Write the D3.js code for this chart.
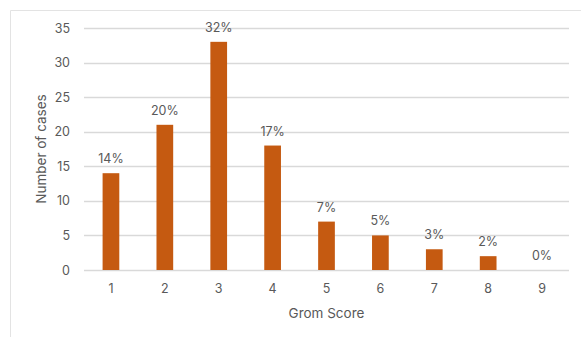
<!DOCTYPE html>
<html>
<head>
<meta charset="utf-8">
<script src="https://cdn.jsdelivr.net/npm/d3@7"></script>
<style>
  html, body { margin: 0; padding: 0; background: #fff; }
  svg { display: block; }
  text { font-family: Inter, "Liberation Sans", sans-serif; fill: #595959; }
</style>
</head>
<body>
<svg id="chart" width="581" height="337"></svg>
<script>
// Grom score distribution
const scores = ["1", "2", "3", "4", "5", "6", "7", "8", "9"];
const cases = [14, 21, 33, 18, 7, 5, 3, 2, 0];
const shares = ["14%", "20%", "32%", "17%", "7%", "5%", "3%", "2%", "0%"];
const yTicks = [0, 5, 10, 15, 20, 25, 30, 35];

const W = 581, H = 337;
const margin = { top: 28, right: 12, bottom: 67, left: 84 };
const svg = d3.select("#chart");

// chart frame
svg.append("path")
  .attr("d", `M10.5,${H} V10.5 H${W}`)
  .attr("fill", "none")
  .attr("stroke", "#E3E3E3")
  .attr("stroke-width", 1);

const x = d3.scaleBand()
  .domain(scores)
  .range([margin.left, W - margin.right])
  .paddingInner(0.69)
  .paddingOuter(0.345);

const y = d3.scaleLinear()
  .domain([0, 35])
  .range([H - margin.bottom, margin.top]);

// gridlines
svg.append("g")
  .selectAll("line")
  .data(yTicks)
  .join("line")
  .attr("x1", margin.left)
  .attr("x2", W - margin.right)
  .attr("y1", d => Math.round(y(d)) + 0.5)
  .attr("y2", d => Math.round(y(d)) + 0.5)
  .attr("stroke", "#D9D9D9")
  .attr("stroke-width", 1.3);

// y axis labels
const yAxis = d3.axisLeft(y).tickValues(yTicks).tickSize(0).tickPadding(14);
svg.append("g")
  .attr("transform", `translate(${margin.left},0)`)
  .call(yAxis)
  .call(g => g.select(".domain").remove())
  .call(g => g.selectAll("text")
    .attr("font-size", 12.5)
    .attr("font-family", "Inter, 'Liberation Sans', sans-serif")
    .attr("fill", "#595959"));

// x axis labels
const xAxis = d3.axisBottom(x).tickSize(0).tickPadding(14);
svg.append("g")
  .attr("transform", `translate(0,${y(0)})`)
  .call(xAxis)
  .call(g => g.select(".domain").remove())
  .call(g => g.selectAll("text")
    .attr("font-size", 12.5)
    .attr("font-family", "Inter, 'Liberation Sans', sans-serif")
    .attr("fill", "#595959"));

// bars
const data = scores.map((s, i) => ({ s, v: cases[i], label: shares[i] }));
svg.append("g")
  .selectAll("rect")
  .data(data)
  .join("rect")
  .attr("x", d => x(d.s))
  .attr("width", x.bandwidth())
  .attr("y", d => y(d.v))
  .attr("height", d => y(0) - y(d.v))
  .attr("fill", "#C55A11");

// value labels
svg.append("g")
  .selectAll("text")
  .data(data)
  .join("text")
  .attr("x", d => x(d.s) + x.bandwidth() / 2)
  .attr("y", d => y(d.v) - 10)
  .attr("text-anchor", "middle")
  .attr("font-size", 12.5)
  .text(d => d.label);

// axis titles
svg.append("text")
  .attr("x", (margin.left + W - margin.right) / 2)
  .attr("y", 318)
  .attr("text-anchor", "middle")
  .attr("font-size", 13.5)
  .text("Grom Score");

svg.append("text")
  .attr("transform", `translate(46,${(y(0) + y(35)) / 2}) rotate(-90)`)
  .attr("text-anchor", "middle")
  .attr("font-size", 13.5)
  .text("Number of cases");
</script>
</body>
</html>
